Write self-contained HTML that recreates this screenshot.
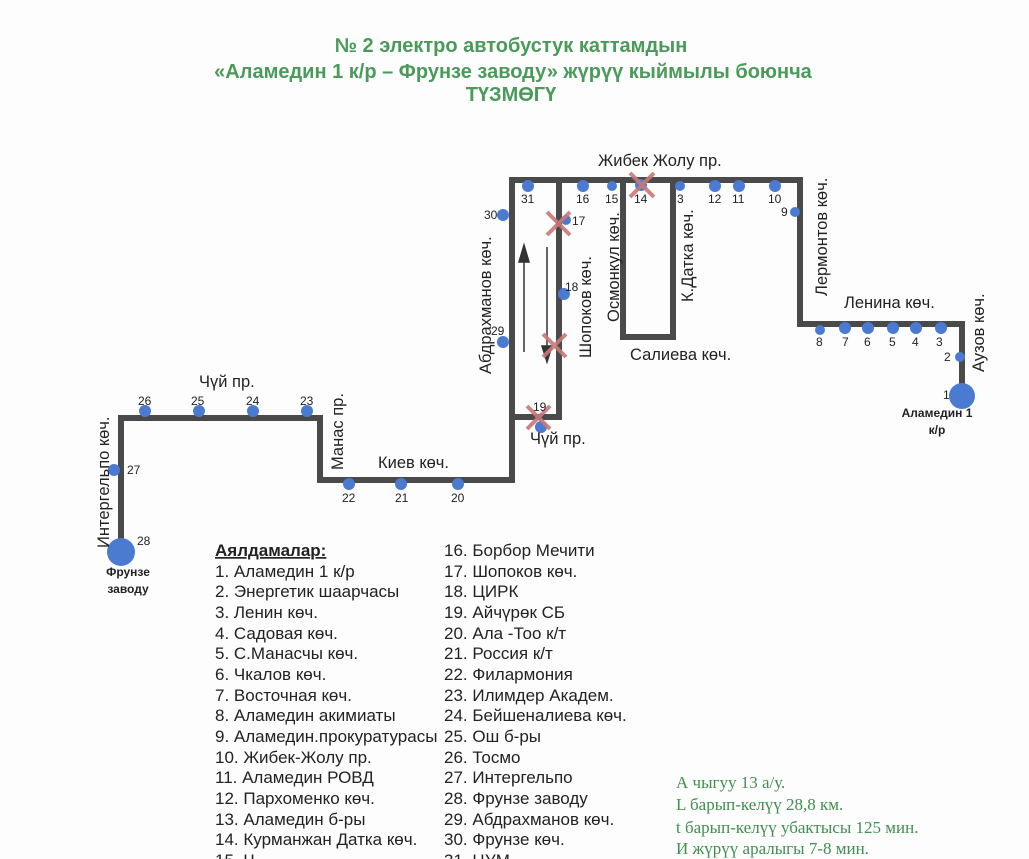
<!DOCTYPE html>
<html><head><meta charset="utf-8"><style>
html,body{margin:0;padding:0;background:#fff;}
svg{display:block;}
.t{font-family:"Liberation Sans",sans-serif;fill:#222;}
</style></head><body>
<svg width="1029" height="859" viewBox="0 0 1029 859" xmlns="http://www.w3.org/2000/svg">
<rect width="1029" height="859" fill="#fdfdfd"/>
<g font-family="Liberation Sans, sans-serif" font-weight="bold" font-size="20" fill="#4a9a5a" text-anchor="middle">
<text x="511" y="52">№ 2 электро автобустук каттамдын</text>
<text x="513" y="78">«Аламедин 1 к/р – Фрунзе заводу» жүрүү кыймылы боюнча</text>
<text x="511" y="101">ТҮЗМӨГҮ</text>
</g>
<g fill="none" stroke="#4a4a4a" stroke-width="6" stroke-linejoin="miter">
<polyline points="121,552 121,418 320,418 320,480 512,480 512,180 800,180 800,324 962,324 962,395"/>
<polyline points="559,180 559,417 512,417"/>
<polyline points="623,180 623,337 673,337 673,180"/>
</g>
<g stroke="#333" stroke-width="1.5" fill="#333">
<line x1="524" y1="352" x2="524" y2="258"/>
<polygon points="519,262 529,262 524,245"/>
<line x1="547" y1="247" x2="547" y2="350"/>
<polygon points="542,346 552,346 547,362"/>
</g>
<g fill="#4a7bd0">
<circle cx="528" cy="186" r="6"/><circle cx="583" cy="186" r="6"/><circle cx="612" cy="186" r="5"/><circle cx="641" cy="185" r="6"/>
<circle cx="680" cy="186" r="5"/><circle cx="715" cy="186" r="6"/><circle cx="739" cy="186" r="6"/><circle cx="775" cy="186" r="6"/>
<circle cx="795" cy="212" r="5"/><circle cx="503" cy="215" r="6"/><circle cx="566" cy="220" r="5"/><circle cx="564" cy="294" r="6"/>
<circle cx="503" cy="342" r="6"/><circle cx="541" cy="427" r="6"/>
<circle cx="145" cy="411" r="6"/><circle cx="199" cy="411" r="6"/><circle cx="253" cy="411" r="6"/><circle cx="307" cy="411" r="6"/>
<circle cx="114" cy="470" r="6"/><circle cx="121" cy="552" r="14"/>
<circle cx="349" cy="484" r="6"/><circle cx="401" cy="484" r="6"/><circle cx="458" cy="484" r="6"/>
<circle cx="820" cy="330" r="5"/><circle cx="845" cy="328" r="6"/><circle cx="868" cy="328" r="6"/><circle cx="893" cy="328" r="6"/><circle cx="916" cy="328" r="6"/><circle cx="941" cy="328" r="6"/>
<circle cx="960" cy="357" r="5"/><circle cx="962" cy="396" r="13"/>
</g>
<g stroke="#c87878" stroke-width="4" opacity="0.9">
<line x1="630" y1="173" x2="654" y2="197"/><line x1="654" y1="173" x2="630" y2="197"/>
<line x1="547" y1="212" x2="570" y2="235"/><line x1="570" y1="212" x2="547" y2="235"/>
<line x1="543" y1="334" x2="566" y2="357"/><line x1="566" y1="334" x2="543" y2="357"/>
<line x1="527" y1="406" x2="550" y2="429"/><line x1="550" y1="406" x2="527" y2="429"/>
</g>
<g class="t" font-size="12">
<text x="521" y="203">31</text><text x="576" y="203">16</text><text x="605" y="203">15</text><text x="634" y="203">14</text>
<text x="677" y="203">3</text><text x="708" y="203">12</text><text x="732" y="203">11</text><text x="768" y="203">10</text>
<text x="781" y="216">9</text><text x="484" y="219">30</text><text x="572" y="225">17</text><text x="565" y="291">18</text>
<text x="491" y="335">29</text><text x="533" y="411">19</text>
<text x="138" y="405">26</text><text x="191" y="405">25</text><text x="246" y="405">24</text><text x="300" y="405">23</text>
<text x="127" y="474">27</text><text x="137" y="545">28</text>
<text x="342" y="502">22</text><text x="395" y="502">21</text><text x="451" y="502">20</text>
<text x="816" y="346">8</text><text x="842" y="346">7</text><text x="864" y="346">6</text><text x="889" y="346">5</text><text x="912" y="346">4</text><text x="936" y="346">3</text>
<text x="944" y="361">2</text><text x="943" y="399">1</text>
</g>
<g class="t" font-size="16.5">
<text x="598" y="166">Жибек Жолу пр.</text>
<text x="630" y="360">Салиева көч.</text>
<text x="530" y="444">Чүй пр.</text>
<text x="199" y="387">Чүй пр.</text>
<text x="378" y="468">Киев көч.</text>
<text x="844" y="308">Ленина көч.</text>
<text transform="translate(491,374) rotate(-90)">Абдрахманов көч.</text>
<text transform="translate(591,358) rotate(-90)">Шопоков көч.</text>
<text transform="translate(619,322) rotate(-90)">Осмонкул көч.</text>
<text transform="translate(693,302) rotate(-90)">К.Датка көч.</text>
<text transform="translate(827,296) rotate(-90)">Лермонтов көч.</text>
<text transform="translate(343,470) rotate(-90)">Манас пр.</text>
<text transform="translate(109,548) rotate(-90)">Интергельпо көч.</text>
<text transform="translate(984,372) rotate(-90)">Аузов көч.</text>
</g>
<g class="t" font-size="12" font-weight="bold" text-anchor="middle">
<text x="128" y="576">Фрунзе</text><text x="128" y="593">заводу</text>
<text x="937" y="417">Аламедин 1</text><text x="937" y="434">к/р</text>
</g>
<g class="t" font-size="17" fill="#333">
<text x="215" y="556" text-decoration="underline" font-weight="bold">Аялдамалар:</text>
<text x="215" y="577">1. Аламедин 1 к/р</text>
<text x="215" y="597">2. Энергетик шаарчасы</text>
<text x="215" y="618">3. Ленин көч.</text>
<text x="215" y="639">4. Садовая көч.</text>
<text x="215" y="659">5. С.Манасчы көч.</text>
<text x="215" y="680">6. Чкалов көч.</text>
<text x="215" y="701">7. Восточная көч.</text>
<text x="215" y="721">8. Аламедин акимиаты</text>
<text x="215" y="742">9. Аламедин.прокуратурасы</text>
<text x="215" y="763">10. Жибек-Жолу пр.</text>
<text x="215" y="783">11. Аламедин РОВД</text>
<text x="215" y="804">12. Пархоменко көч.</text>
<text x="215" y="825">13. Аламедин б-ры</text>
<text x="215" y="845">14. Курманжан Датка көч.</text>
<text x="215" y="866">15. Ч</text>
<text x="444" y="556">16. Борбор Мечити</text>
<text x="444" y="577">17. Шопоков көч.</text>
<text x="444" y="597">18. ЦИРК</text>
<text x="444" y="618">19. Айчүрөк СБ</text>
<text x="444" y="639">20. Ала -Тоо к/т</text>
<text x="444" y="659">21. Россия к/т</text>
<text x="444" y="680">22. Филармония</text>
<text x="444" y="701">23. Илимдер Академ.</text>
<text x="444" y="721">24. Бейшеналиева көч.</text>
<text x="444" y="742">25. Ош б-ры</text>
<text x="444" y="763">26. Тосмо</text>
<text x="444" y="783">27. Интергельпо</text>
<text x="444" y="804">28. Фрунзе заводу</text>
<text x="444" y="825">29. Абдрахманов көч.</text>
<text x="444" y="845">30. Фрунзе көч.</text>
<text x="444" y="866">31. ЦУМ</text>
</g>
<g font-family="Liberation Serif, serif" font-size="17" fill="#3f8f4f" xml:space="preserve">
<text x="676" y="788">А чыгуу 13 а/у.</text>
<text x="676" y="810">L барып-келүү  28,8 км.</text>
<text x="676" y="833">t барып-келүү убактысы  125 мин.</text>
<text x="676" y="854">И жүрүү аралыгы  7-8     мин.</text>
</g>
</svg>
</body></html>
